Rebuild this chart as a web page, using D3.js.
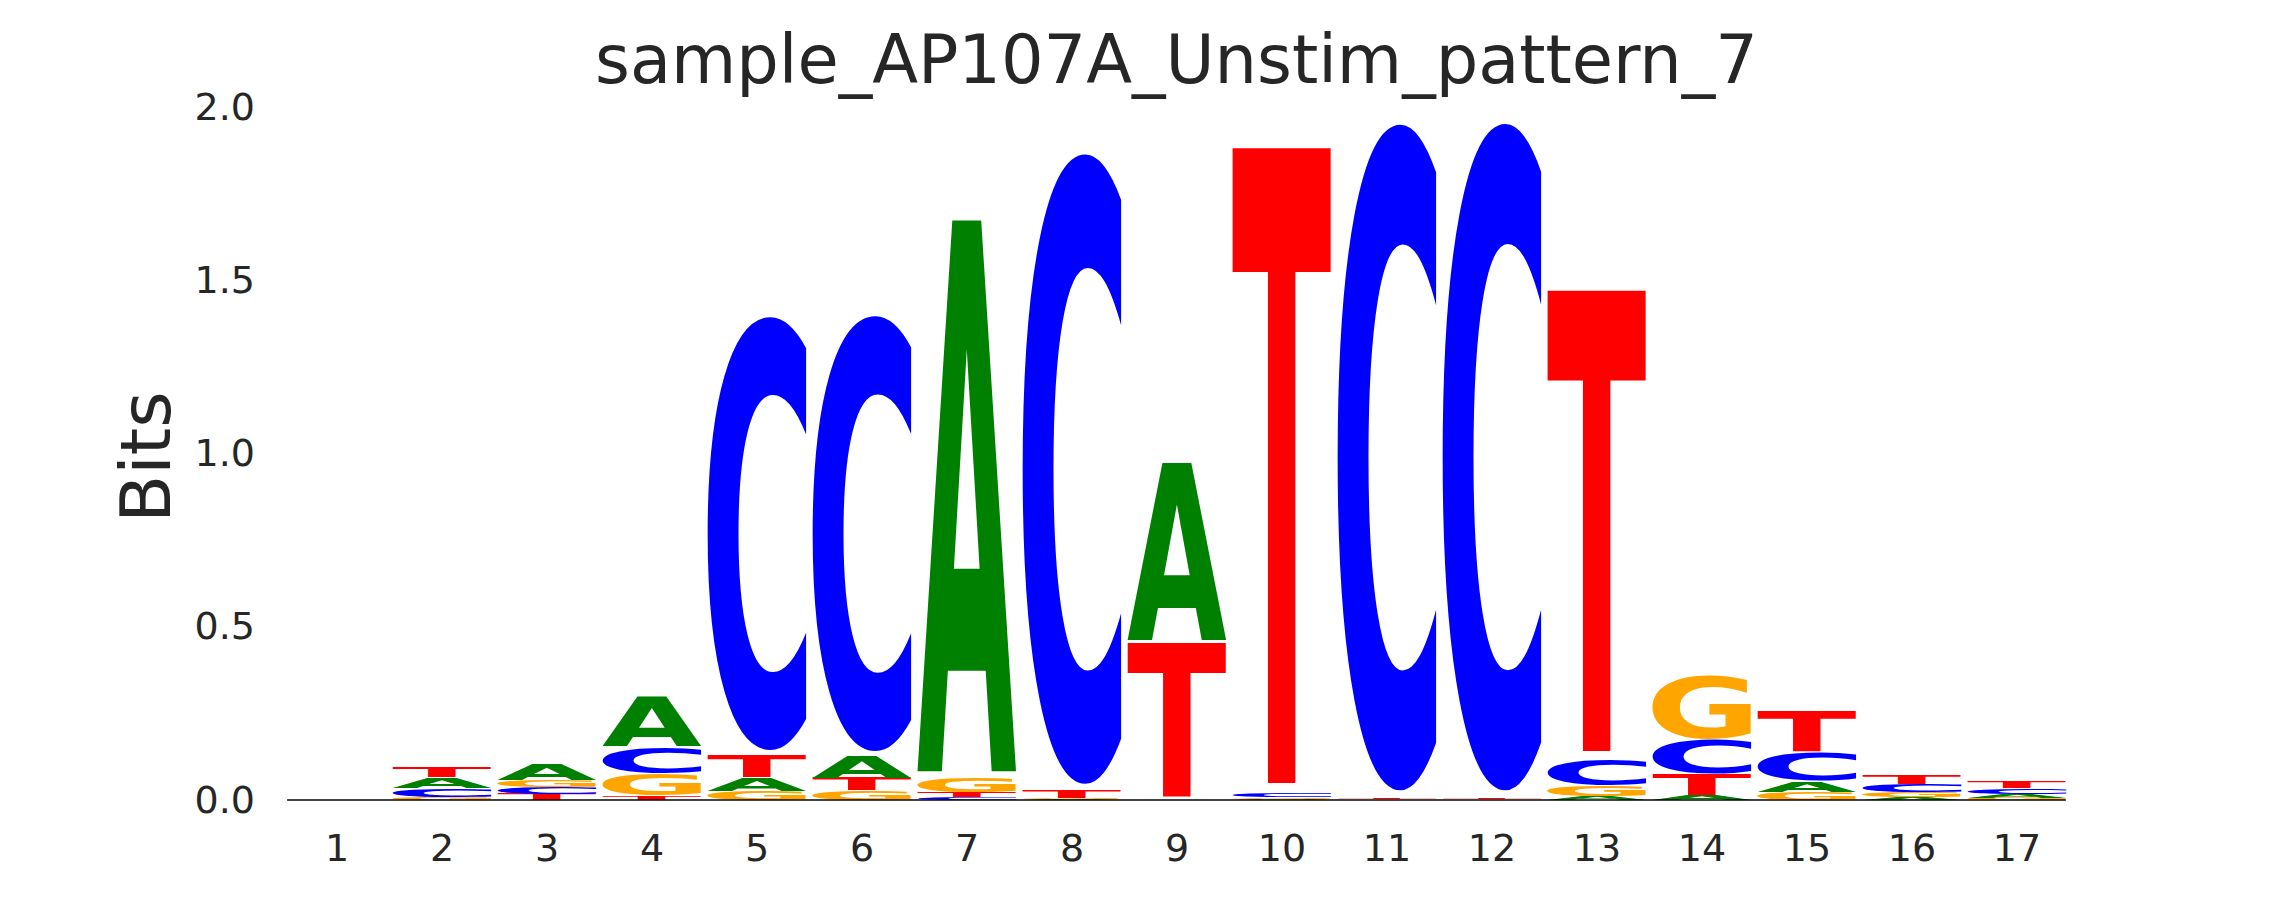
<!DOCTYPE html>
<html>
<head>
<meta charset="utf-8">
<script src="https://cdn.jsdelivr.net/npm/d3@7"></script>
<style>
  html, body { margin: 0; padding: 0; background: #ffffff; }
  svg { display: block; }
</style>
</head>
<body>
<svg id="chart" width="2295" height="900"></svg>
<script>
// ---- data (information content, bits) ----
const title = "sample_AP107A_Unstim_pattern_7";
const yLabel = "Bits";
const positions = [1, 2, 3, 4, 5, 6, 7, 8, 9, 10, 11, 12, 13, 14, 15, 16, 17];
const bases = ["A", "C", "G", "T"];
const valuesA = [0, 0.031, 0.044, 0.146, 0.039, 0.063, 1.624, 0.002, 0.520, 0.004, 0.001, 0.001, 0.010, 0.013, 0.031, 0.008, 0.012];
const valuesC = [0, 0.025, 0.019, 0.077, 1.281, 1.287, 0.008, 1.862, 0.001, 0.010, 1.970, 1.972, 0.077, 0.100, 0.084, 0.024, 0.015];
const valuesG = [0, 0.009, 0.021, 0.065, 0.027, 0.027, 0.044, 0.002, 0.001, 0.004, 0.001, 0.001, 0.032, 0.186, 0.024, 0.014, 0.006];
const valuesT = [0, 0.032, 0.018, 0.012, 0.064, 0.037, 0.015, 0.022, 0.455, 1.884, 0.004, 0.004, 1.366, 0.061, 0.119, 0.026, 0.017];
const yTicks = [0, 0.5, 1.0, 1.5, 2.0];
const baseColors = { A: "#008000", C: "#0000ff", G: "#ffa500", T: "#ff0000" };

const seriesByBase = { A: valuesA, C: valuesC, G: valuesG, T: valuesT };

// ---- layout ----
const svg = d3.select("#chart");
const x = d3.scaleLinear().domain([0.5, 17.5]).range([284, 2069]);
const y = d3.scaleLinear().domain([0, 2]).range([800, 107]);
const glyphWidth = 0.945;
const vpad = 0.02;
const textColor = "#262626";
const fontFamily = "'DejaVu Sans', 'Liberation Sans', sans-serif";

// build stacked glyph table: smallest at bottom
const glyphs = [];
positions.forEach((p, i) => {
  const items = bases.map(b => ({ base: b, value: seriesByBase[b][i] }))
    .filter(d => d.value > 0)
    .sort((a, b) => a.value - b.value);
  let floor = 0;
  items.forEach(it => {
    glyphs.push({ pos: p, base: it.base, floor: floor, ceil: floor + it.value });
    floor += it.value;
  });
});

// measure glyph ink bounds with canvas
const canvas = document.createElement("canvas");
const ctx = canvas.getContext("2d");
const measureSize = 200;
ctx.font = `bold ${measureSize}px 'DejaVu Sans'`;
const ink = {};
bases.forEach(b => {
  const m = ctx.measureText(b);
  ink[b] = {
    left: m.actualBoundingBoxLeft,
    right: m.actualBoundingBoxRight,
    ascent: m.actualBoundingBoxAscent,
    descent: m.actualBoundingBoxDescent
  };
});

// ---- glyphs ----
const gLogo = svg.append("g").attr("class", "logo");
gLogo.selectAll("text.glyph")
  .data(glyphs)
  .join("text")
  .attr("class", "glyph")
  .attr("x", 0)
  .attr("y", 0)
  .attr("font-family", "DejaVu Sans")
  .attr("font-weight", "bold")
  .attr("font-size", measureSize)
  .attr("fill", d => baseColors[d.base])
  .attr("transform", d => {
    const m = ink[d.base];
    const h = d.ceil - d.floor;
    const x0 = x(d.pos - glyphWidth / 2), x1 = x(d.pos + glyphWidth / 2);
    const yTop = y(d.ceil - vpad * h / 2), yBot = y(d.floor + vpad * h / 2);
    const iw = m.left + m.right, ih = m.ascent + m.descent;
    const sx = (x1 - x0) / iw, sy = (yBot - yTop) / ih;
    return `translate(${x0},${yTop}) scale(${sx},${sy}) translate(${m.left},${m.ascent})`;
  })
  .text(d => d.base);

// ---- baseline ----
svg.append("line")
  .attr("x1", x(0.53)).attr("x2", x(17.47))
  .attr("y1", y(0)).attr("y2", y(0))
  .attr("stroke", "#000").attr("stroke-width", 1.6);

// ---- axes ----
const yAxis = d3.axisLeft(y).tickValues(yTicks).tickFormat(d3.format(".1f")).tickSize(0).tickPadding(29);
const gy = svg.append("g").attr("transform", `translate(${x(0.5)},0)`).call(yAxis);
gy.select(".domain").remove();
gy.selectAll("text").attr("font-family", fontFamily).attr("font-size", 38).attr("fill", textColor);

const xAxis = d3.axisBottom(x).tickValues(positions).tickFormat(d3.format("d")).tickSize(0).tickPadding(34);
const gx = svg.append("g").attr("transform", `translate(0,${y(0)})`).call(xAxis);
gx.select(".domain").remove();
gx.selectAll("text").attr("font-family", fontFamily).attr("font-size", 38).attr("fill", textColor);

// ---- labels ----
svg.append("text")
  .attr("x", (x(0.5) + x(17.5)) / 2)
  .attr("y", 83)
  .attr("text-anchor", "middle")
  .attr("font-family", fontFamily)
  .attr("font-size", 67)
  .attr("fill", textColor)
  .text(title);

svg.append("text")
  .attr("transform", `translate(170,457) rotate(-90)`)
  .attr("text-anchor", "middle")
  .attr("font-family", fontFamily)
  .attr("font-size", 70)
  .attr("fill", textColor)
  .text(yLabel);
</script>
</body>
</html>
